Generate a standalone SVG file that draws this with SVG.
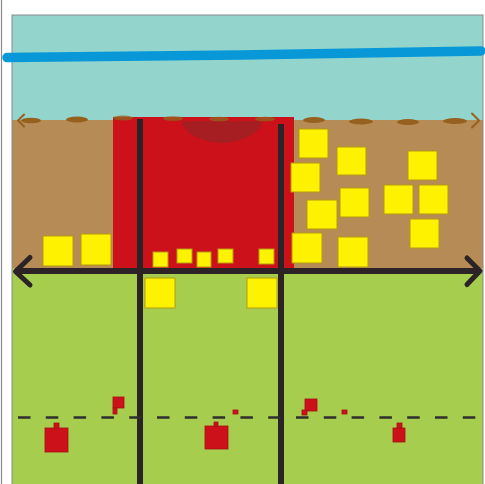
<svg xmlns="http://www.w3.org/2000/svg" width="485" height="484" viewBox="0 0 485 484">
  <defs>
    <style>
      .sq { fill: #fff200; stroke: #b59a12; stroke-width: 1; }
      .house { fill: #cc111b; stroke: #a80e16; stroke-width: 0.8; }
      .blob { fill: #96601e; }
      .bar { stroke: #2b2325; stroke-width: 6; fill: none; }
      .chev { stroke: #2b2325; stroke-width: 5; fill: none; stroke-linecap: round; stroke-linejoin: round; }
      .bchev { stroke: #96601e; stroke-width: 2; fill: none; stroke-linecap: round; stroke-linejoin: round; }
    </style>
  </defs>
  <rect x="0" y="0" width="485" height="484" fill="#ffffff"/>
  <line x1="1.5" y1="0" x2="1.5" y2="484" stroke="#8a8a8a" stroke-width="1.2"/>

  <g id="layers">
    <rect x="12" y="15" width="471" height="106" fill="#93d5cd"/>
    <rect x="12" y="120" width="471" height="149" fill="#b68b56"/>
    <rect x="12" y="268" width="471" height="216" fill="#a6cd4e"/>
    <rect x="12" y="15" width="471" height="472" fill="none" stroke="#8a8a8a" stroke-width="1"/>
  </g>

  <g id="river">
    <path d="M7,57.5 C80,57 160,56 240,55 C320,54 400,52 481,51" stroke="#0898d8" stroke-width="9.5" fill="none" stroke-linecap="round"/>
  </g>

  <g id="red-zone">
    <rect x="113" y="117" width="181" height="152" fill="#cc111b"/>
    <path d="M182,121 L262,121 C262,133 240,143 222,143 C204,143 182,133 182,121 Z" fill="#a61d22"/>
  </g>

  <g id="surface">
    <ellipse class="blob" cx="31" cy="120.5" rx="10" ry="2.8"/>
    <ellipse class="blob" cx="77" cy="119.5" rx="11" ry="3"/>
    <ellipse class="blob" cx="123" cy="118" rx="10" ry="2.5" opacity="0.8"/>
    <ellipse class="blob" cx="173" cy="118.5" rx="10" ry="2.3" opacity="0.8"/>
    <ellipse class="blob" cx="219" cy="119" rx="10" ry="2.3" opacity="0.8"/>
    <ellipse class="blob" cx="265" cy="119" rx="10" ry="2.3" opacity="0.8"/>
    <ellipse class="blob" cx="314" cy="120" rx="11" ry="3"/>
    <ellipse class="blob" cx="361" cy="121.5" rx="12" ry="3"/>
    <ellipse class="blob" cx="408" cy="122" rx="11" ry="3"/>
    <ellipse class="blob" cx="455" cy="121" rx="12" ry="3"/>
    <polyline class="bchev" points="24,114.5 18,120.5 24,126.5"/>
    <polyline class="bchev" points="472,113.5 479,120.5 472,127.5"/>
  </g>

  <g id="sources">
    <rect class="sq" x="43" y="236" width="30" height="30"/>
    <rect class="sq" x="81" y="234" width="30" height="31"/>
    <rect class="sq" x="153" y="252" width="15" height="15"/>
    <rect class="sq" x="177" y="249" width="15" height="14"/>
    <rect class="sq" x="197" y="252" width="14" height="15"/>
    <rect class="sq" x="218" y="249" width="15" height="14"/>
    <rect class="sq" x="259" y="249" width="15" height="15"/>
    <rect class="sq" x="145" y="278" width="30" height="30"/>
    <rect class="sq" x="247" y="278" width="30" height="30"/>
    <rect class="sq" x="299" y="129" width="29" height="29"/>
    <rect class="sq" x="337" y="147" width="29" height="28"/>
    <rect class="sq" x="291" y="163" width="29" height="29"/>
    <rect class="sq" x="408" y="151" width="29" height="29"/>
    <rect class="sq" x="340" y="188" width="29" height="29"/>
    <rect class="sq" x="307" y="200" width="30" height="29"/>
    <rect class="sq" x="384" y="185" width="29" height="29"/>
    <rect class="sq" x="419" y="185" width="29" height="29"/>
    <rect class="sq" x="410" y="219" width="29" height="29"/>
    <rect class="sq" x="292" y="233" width="30" height="30"/>
    <rect class="sq" x="338" y="237" width="30" height="30"/>
  </g>

  <g id="connectors">
    <line class="bar" x1="140" y1="119" x2="140" y2="484"/>
    <line class="bar" x1="281" y1="124" x2="281" y2="484"/>
    <line class="bar" x1="15" y1="271" x2="479" y2="271"/>
    <polyline class="chev" points="30,257.5 15.5,271.5 30,285"/>
    <polyline class="chev" points="467,258 480,271 467,284.5"/>
    <line x1="12" y1="417.5" x2="483" y2="417.5" stroke="#2f2f2f" stroke-width="2.6" stroke-dasharray="12.5 15.3" stroke-dashoffset="-6"/>
  </g>

  <g id="wells">
    <rect class="house" x="45" y="428" width="23" height="24"/>
    <rect class="house" x="54" y="423" width="5" height="5"/>
    <rect class="house" x="113" y="397" width="11" height="11"/>
    <rect class="house" x="113" y="408" width="4" height="6"/>
    <rect class="house" x="233" y="410" width="5" height="4"/>
    <rect class="house" x="205" y="426" width="23" height="23"/>
    <rect class="house" x="214" y="422" width="4" height="4"/>
    <rect class="house" x="305" y="399" width="12" height="12"/>
    <rect class="house" x="302" y="410" width="5" height="5"/>
    <rect class="house" x="342" y="410" width="5" height="4"/>
    <rect class="house" x="393" y="428" width="12" height="14"/>
    <rect class="house" x="397" y="423" width="5" height="5"/>
  </g>
</svg>
